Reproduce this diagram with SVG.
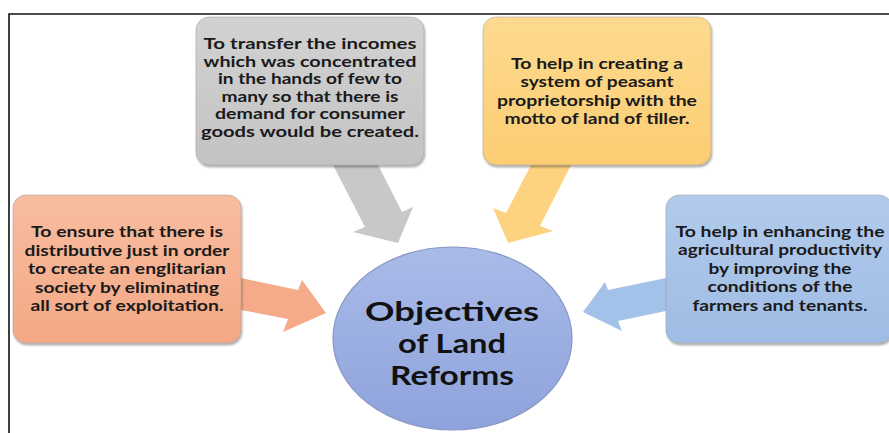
<svg xmlns="http://www.w3.org/2000/svg" width="889" height="433" viewBox="0 0 889 433">
  <defs>
    <linearGradient id="gGray" x1="0" y1="0" x2="0" y2="1">
      <stop offset="0" stop-color="#d2d2d2"/>
      <stop offset="1" stop-color="#c3c3c3"/>
    </linearGradient>
    <linearGradient id="gYellow" x1="0" y1="0" x2="0" y2="1">
      <stop offset="0" stop-color="#fdda90"/>
      <stop offset="1" stop-color="#fccd72"/>
    </linearGradient>
    <linearGradient id="gOrange" x1="0" y1="0" x2="0" y2="1">
      <stop offset="0" stop-color="#f8bda0"/>
      <stop offset="1" stop-color="#f4a885"/>
    </linearGradient>
    <linearGradient id="gBlue" x1="0" y1="0" x2="0" y2="1">
      <stop offset="0" stop-color="#b2cbec"/>
      <stop offset="1" stop-color="#9fbce4"/>
    </linearGradient>
    <linearGradient id="gCircle" x1="0" y1="0" x2="0" y2="1">
      <stop offset="0" stop-color="#a9bbe8"/>
      <stop offset="1" stop-color="#8ea3dc"/>
    </linearGradient>
    <filter id="soft" x="-5%" y="-5%" width="110%" height="115%">
      <feGaussianBlur in="SourceAlpha" stdDeviation="1.2"/>
      <feOffset dx="0.5" dy="1.5" result="b"/>
      <feFlood flood-color="#000" flood-opacity="0.35"/>
      <feComposite in2="b" operator="in"/>
      <feMerge><feMergeNode/><feMergeNode in="SourceGraphic"/></feMerge>
    </filter>
  </defs>
  <style>
    .box { stroke: #9a9a9a; stroke-width: 0.8; stroke-opacity: 0.6; filter: url(#soft); }
    .lbl { font-family: Lato, "Open Sans", "Liberation Sans", sans-serif; font-weight: bold; font-size: 14.5px; fill: #1a1a1a; text-anchor: middle; }
    .title { font-family: Lato, "Open Sans", "Liberation Sans", sans-serif; font-weight: bold; font-size: 26.5px; fill: #111; text-anchor: middle; }
  </style>

  <rect width="889" height="433" fill="#ffffff"/>
  <!-- frame -->
  <path d="M9 433 V14 H889" fill="none" stroke="#111" stroke-width="1.6"/>

  <!-- connectors: block arrows pointing at the centre ellipse -->
  <g id="connectors">
    <polygon fill="#c8c8c8" points="332,163 377,163 402,212 413,207 398,243 353,232 365,227"/>
    <polygon fill="#fed380" points="532,163 572,163 540,226 553,231 508,243 493,208 506,213"/>
    <polygon fill="#f5aa89" points="241,278 298,290 302,280 326,313 283,332 288,319 241,310"/>
    <polygon fill="#a3c2ea" points="666,278 608,290 605,282 583,312 622,331 618,321 666,311"/>
  </g>

  <g id="node-income">
    <rect class="box" x="196" y="17" width="228" height="148" rx="13" fill="url(#gGray)"/>
    <text class="lbl" x="310" y="49" textLength="213" lengthAdjust="spacingAndGlyphs">To transfer the incomes</text>
    <text class="lbl" x="310" y="66.5" textLength="213" lengthAdjust="spacingAndGlyphs">which was concentrated</text>
    <text class="lbl" x="310" y="84" textLength="184" lengthAdjust="spacingAndGlyphs">in the hands of few to</text>
    <text class="lbl" x="310" y="101.5" textLength="177" lengthAdjust="spacingAndGlyphs">many so that there is</text>
    <text class="lbl" x="310" y="119" textLength="190" lengthAdjust="spacingAndGlyphs">demand for consumer</text>
    <text class="lbl" x="310" y="137" textLength="218" lengthAdjust="spacingAndGlyphs">goods would be created.</text>
  </g>

  <g id="node-peasant">
    <rect class="box" x="483" y="17" width="228" height="148" rx="13" fill="url(#gYellow)"/>
    <text class="lbl" x="597" y="69" textLength="172" lengthAdjust="spacingAndGlyphs">To help in creating a</text>
    <text class="lbl" x="597" y="87" textLength="153" lengthAdjust="spacingAndGlyphs">system of peasant</text>
    <text class="lbl" x="597" y="105.5" textLength="200" lengthAdjust="spacingAndGlyphs">proprietorship with the</text>
    <text class="lbl" x="597" y="124" textLength="185" lengthAdjust="spacingAndGlyphs">motto of land of tiller.</text>
  </g>

  <g id="node-justice">
    <rect class="box" x="13" y="195" width="228" height="148" rx="13" fill="url(#gOrange)"/>
    <text class="lbl" x="127" y="237" textLength="192" lengthAdjust="spacingAndGlyphs">To ensure that there is</text>
    <text class="lbl" x="127" y="255.5" textLength="205" lengthAdjust="spacingAndGlyphs">distributive just in order</text>
    <text class="lbl" x="127" y="274" textLength="198" lengthAdjust="spacingAndGlyphs">to create an englitarian</text>
    <text class="lbl" x="127" y="292.5" textLength="184" lengthAdjust="spacingAndGlyphs">society by eliminating</text>
    <text class="lbl" x="127" y="311" textLength="193" lengthAdjust="spacingAndGlyphs">all sort of exploitation.</text>
  </g>

  <g id="node-productivity">
    <rect class="box" x="666" y="195" width="226" height="148" rx="13" fill="url(#gBlue)"/>
    <text class="lbl" x="780" y="237" textLength="209" lengthAdjust="spacingAndGlyphs">To help in enhancing the</text>
    <text class="lbl" x="780" y="255" textLength="204" lengthAdjust="spacingAndGlyphs">agricultural productivity</text>
    <text class="lbl" x="780" y="273.5" textLength="143" lengthAdjust="spacingAndGlyphs">by improving the</text>
    <text class="lbl" x="780" y="292" textLength="145" lengthAdjust="spacingAndGlyphs">conditions of the</text>
    <text class="lbl" x="780" y="310.5" textLength="175" lengthAdjust="spacingAndGlyphs">farmers and tenants.</text>
  </g>

  <g id="node-center">
    <ellipse cx="452.5" cy="338.5" rx="119.5" ry="91.5" fill="url(#gCircle)" stroke="#8796c4" stroke-width="1.2"/>
    <text class="title" x="452" y="321" textLength="174" lengthAdjust="spacingAndGlyphs">Objectives</text>
    <text class="title" x="452" y="353" textLength="108" lengthAdjust="spacingAndGlyphs">of Land</text>
    <text class="title" x="452" y="385" textLength="124" lengthAdjust="spacingAndGlyphs">Reforms</text>
  </g>
</svg>
